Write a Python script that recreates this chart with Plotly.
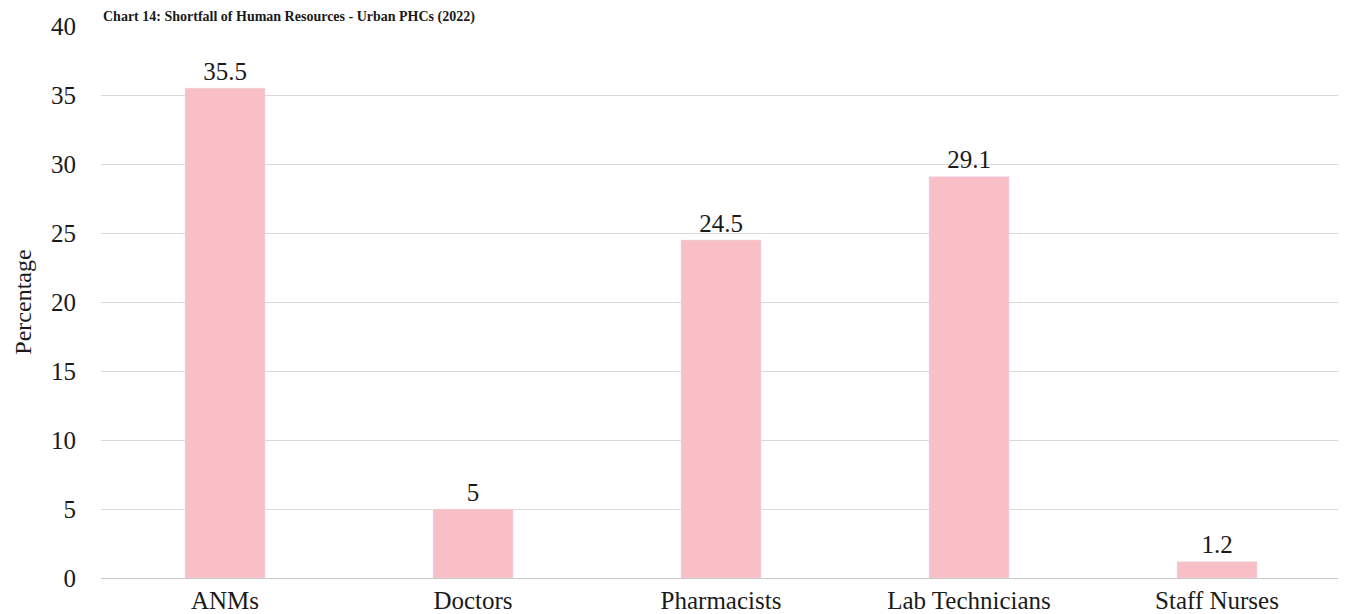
import plotly.graph_objects as go

categories = ["ANMs", "Doctors", "Pharmacists", "Lab Technicians", "Staff Nurses"]
values = [35.5, 5, 24.5, 29.1, 1.2]
labels = ["35.5", "5", "24.5", "29.1", "1.2"]
tick_vals = [0, 5, 10, 15, 20, 25, 30, 35, 40]

FONT = "Liberation Serif"
INK = "#1a1a1a"

fig = go.Figure(go.Bar(
    x=categories, y=values, text=labels, textposition="outside",
    marker_color="#F8BFC6", cliponaxis=False,
    textfont=dict(family=FONT, size=25, color=INK),
))

fig.update_layout(
    width=1346, height=614,
    margin=dict(l=93, r=13, t=18, b=44),
    plot_bgcolor="white", paper_bgcolor="white",
    bargap=0.677, showlegend=False,
    font=dict(family=FONT, size=25, color=INK),
    uniformtext=dict(minsize=10, mode="show"),
    annotations=[dict(
        text="<b>Chart 14: Shortfall of Human Resources - Urban PHCs (2022)</b>",
        xref="paper", yref="paper", x=0, y=1, xanchor="left", yanchor="middle",
        yshift=9, showarrow=False, font=dict(family=FONT, size=14, color=INK),
    )],
)
fig.update_xaxes(showline=True, linecolor="#c8c8c8", linewidth=1, ticks="",
                 tickfont=dict(family=FONT, size=25, color=INK), automargin=False)
fig.update_yaxes(range=[0, 40], tickvals=tick_vals, showgrid=True, gridcolor="#d9d9d9",
                 zeroline=False, automargin=False,
                 title=dict(text="Percentage", font=dict(family=FONT, size=24, color=INK), standoff=12),
                 tickfont=dict(family=FONT, size=25, color=INK), ticklabelstandoff=24)

fig.write_html("out.html")
